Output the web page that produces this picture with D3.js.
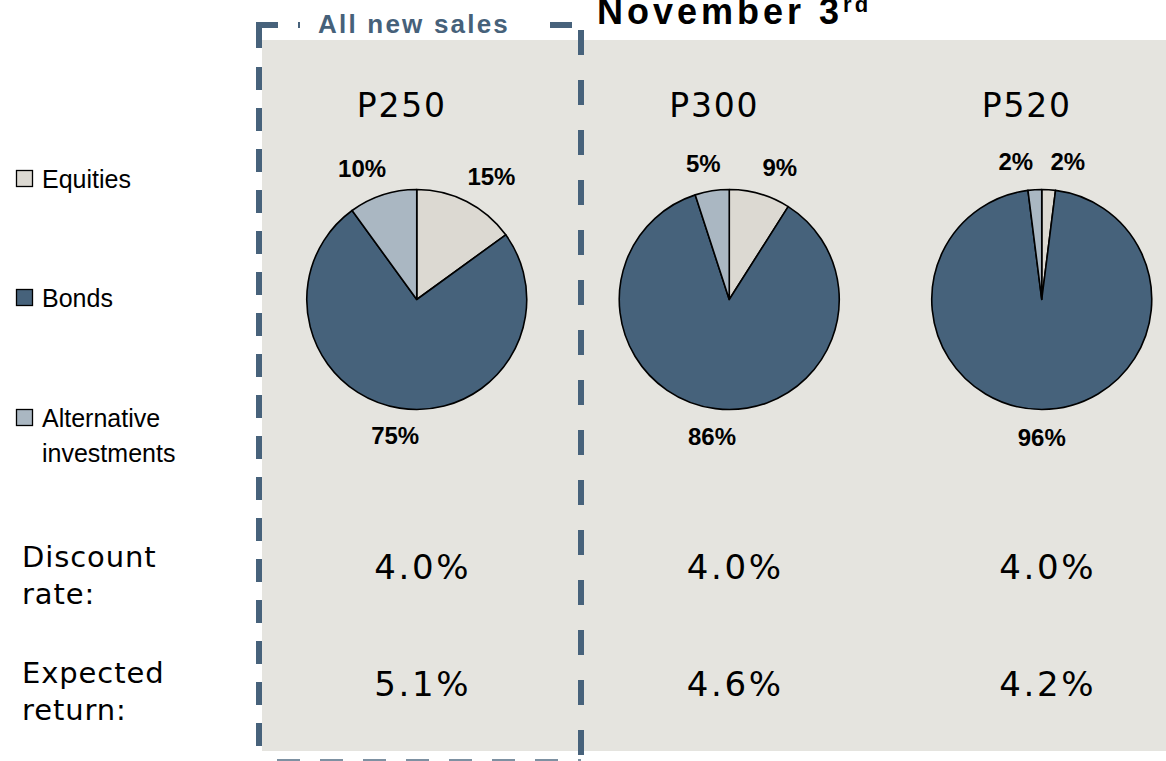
<!DOCTYPE html>
<html>
<head>
<meta charset="utf-8">
<script src="https://cdn.jsdelivr.net/npm/d3@7"></script>
<style>
  html, body { margin: 0; padding: 0; background: #ffffff; }
  svg { display: block; }
</style>
</head>
<body>
<svg id="chart" width="1166" height="761"></svg>
<script>
// ---- data ----
const portfolios = ["P250", "P300", "P520"];
const assetClasses = ["Equities", "Bonds", "Alternative investments"];
const equities = [15, 9, 2];
const bonds = [75, 86, 96];
const alternatives = [10, 5, 2];
const discountRates = ["4.0%", "4.0%", "4.0%"];
const expectedReturns = ["5.1%", "4.6%", "4.2%"];
const rowLabels = [["Discount", "rate:"], ["Expected", "return:"]];
const highlightLabel = "All new sales";
const titleMain = "November 3";
const titleSup = "rd";

// ---- styles ----
const colors = { "Equities": "#dcd9d2", "Bonds": "#46627b", "Alternative investments": "#aab7c2" };
const dashColor = "#47627b";
const panelColor = "#e5e4df";
const sansA = "'Liberation Sans', Arial, sans-serif";
const sansV = "'DejaVu Sans', Verdana, sans-serif";

const svg = d3.select("#chart");

// column scale
const x = d3.scaleBand().domain(portfolios).range([260.5, 1198]);
const cx = p => x(p) + x.bandwidth() / 2;

// grey panel
svg.append("rect").attr("x", 262).attr("y", 40).attr("width", 904).attr("height", 711).attr("fill", panelColor);

// dashed highlight box
const box = { x0: 259, x1: 581, y0: 25, y1: 762 };
const dashG = svg.append("g").attr("stroke", dashColor).attr("stroke-width", 6).attr("fill", "none");
dashG.append("line").attr("x1", box.x0 - 3).attr("y1", box.y0).attr("x2", box.x1 + 3).attr("y2", box.y0)
  .attr("stroke-dasharray", "22 20");
dashG.append("line").attr("x1", box.x0).attr("y1", box.y0 - 3).attr("x2", box.x0).attr("y2", box.y1)
  .attr("stroke-dasharray", "26 19 23 18 23 18 23 18 23 18 23 18 23 18 23 18 23 18 23 18 23 18 23 18 23 18 23 18 23 18 23 18 23 18 23 18 23 18");
dashG.append("line").attr("x1", box.x1).attr("y1", box.y0 - 3).attr("x2", box.x1).attr("y2", box.y1)
  .attr("stroke-dasharray", "0 8 25 17");
dashG.append("line").attr("x1", box.x0 + 18).attr("y1", box.y1).attr("x2", box.x1).attr("y2", box.y1)
  .attr("stroke-dasharray", "23 20").attr("stroke-opacity", 0.7);

// label over the dashed box
svg.append("rect").attr("x", 300).attr("y", 8).attr("width", 248).attr("height", 30).attr("fill", "#ffffff");
svg.append("text").attr("x", 414).attr("y", 33).attr("text-anchor", "middle")
  .attr("font-family", sansA).attr("font-weight", "bold").attr("font-size", 26)
  .attr("letter-spacing", 2.2).attr("fill", "#46617a").text(highlightLabel);

// title
const title = svg.append("text").attr("x", 597).attr("y", 24)
  .attr("font-family", sansA).attr("font-weight", "bold").attr("font-size", 36)
  .attr("letter-spacing", 4).attr("fill", "#000");
title.append("tspan").text(titleMain);
title.append("tspan").attr("font-size", 22).attr("dy", -12).attr("letter-spacing", 3).text(titleSup);

// legend
const legendY = [188, 307, 427];
const legend = svg.append("g");
assetClasses.forEach((a, i) => {
  legend.append("rect").attr("x", 16.5).attr("y", legendY[i] - 17.5).attr("width", 16).attr("height", 16)
    .attr("fill", colors[a]).attr("stroke", "#000").attr("stroke-width", 1.3);
  const words = a === "Alternative investments" ? ["Alternative", "investments"] : [a];
  words.forEach((w, j) => {
    legend.append("text").attr("x", 42).attr("y", legendY[i] + j * 35)
      .attr("font-family", sansA).attr("font-size", 25).attr("letter-spacing", 0)
      .attr("fill", "#000").text(w);
  });
});

// column headers
svg.selectAll("text.hdr").data(portfolios).join("text").attr("class", "hdr")
  .attr("x", d => cx(d) - 15).attr("y", 117).attr("text-anchor", "middle")
  .attr("font-family", sansV).attr("font-size", 33).attr("letter-spacing", 1.8)
  .attr("fill", "#000").text(d => d);

// pies
const radius = 110;
const pieCy = 299.5;
const pie = d3.pie().sort(null).value(d => d.v);
const arc = d3.arc().innerRadius(0).outerRadius(radius);

function labelDx(d) {
  const m = (d.startAngle + d.endAngle) / 2;
  const ux = Math.sin(m), uy = -Math.cos(m);
  const base = 138 * ux;
  if (uy > 0) return base;                       // bottom labels
  if (Math.abs(ux) > 0.2) return base + 12 * Math.sign(ux);
  const s = ux < 0 ? -1 : 1;
  return s * Math.max(Math.abs(base), 26);
}

portfolios.forEach((p, i) => {
  const data = [
    { k: "Equities", v: equities[i] },
    { k: "Bonds", v: bonds[i] },
    { k: "Alternative investments", v: alternatives[i] }
  ];
  const arcs = pie(data);
  const g = svg.append("g").attr("transform", `translate(${cx(p)},${pieCy})`);
  g.selectAll("path").data(arcs).join("path")
    .attr("d", arc).attr("fill", d => colors[d.data.k])
    .attr("stroke", "#000").attr("stroke-width", 1.6).attr("stroke-linejoin", "round");
  g.selectAll("text").data(arcs).join("text")
    .attr("x", labelDx)
    .attr("y", d => -138 * Math.cos((d.startAngle + d.endAngle) / 2))
    .attr("dy", "0.36em").attr("text-anchor", "middle")
    .attr("font-family", sansA).attr("font-weight", "bold").attr("font-size", 24)
    .attr("fill", "#000").text(d => d.data.v + "%");
});

// row labels
const rowY = [567, 683];
rowLabels.forEach((lines, r) => {
  lines.forEach((l, j) => {
    svg.append("text").attr("x", 22).attr("y", rowY[r] + j * 37)
      .attr("font-family", sansV).attr("font-size", 29).attr("letter-spacing", 0.9)
      .attr("fill", "#000").text(l);
  });
});

// row values
[discountRates, expectedReturns].forEach((vals, r) => {
  svg.selectAll("text.val" + r).data(portfolios).join("text").attr("class", "val" + r)
    .attr("x", d => cx(d) + 6).attr("y", [579, 696][r]).attr("text-anchor", "middle")
    .attr("font-family", sansV).attr("font-size", 34).attr("letter-spacing", 2.6)
    .attr("fill", "#000").text((d, i) => vals[i]);
});
</script>
</body>
</html>
